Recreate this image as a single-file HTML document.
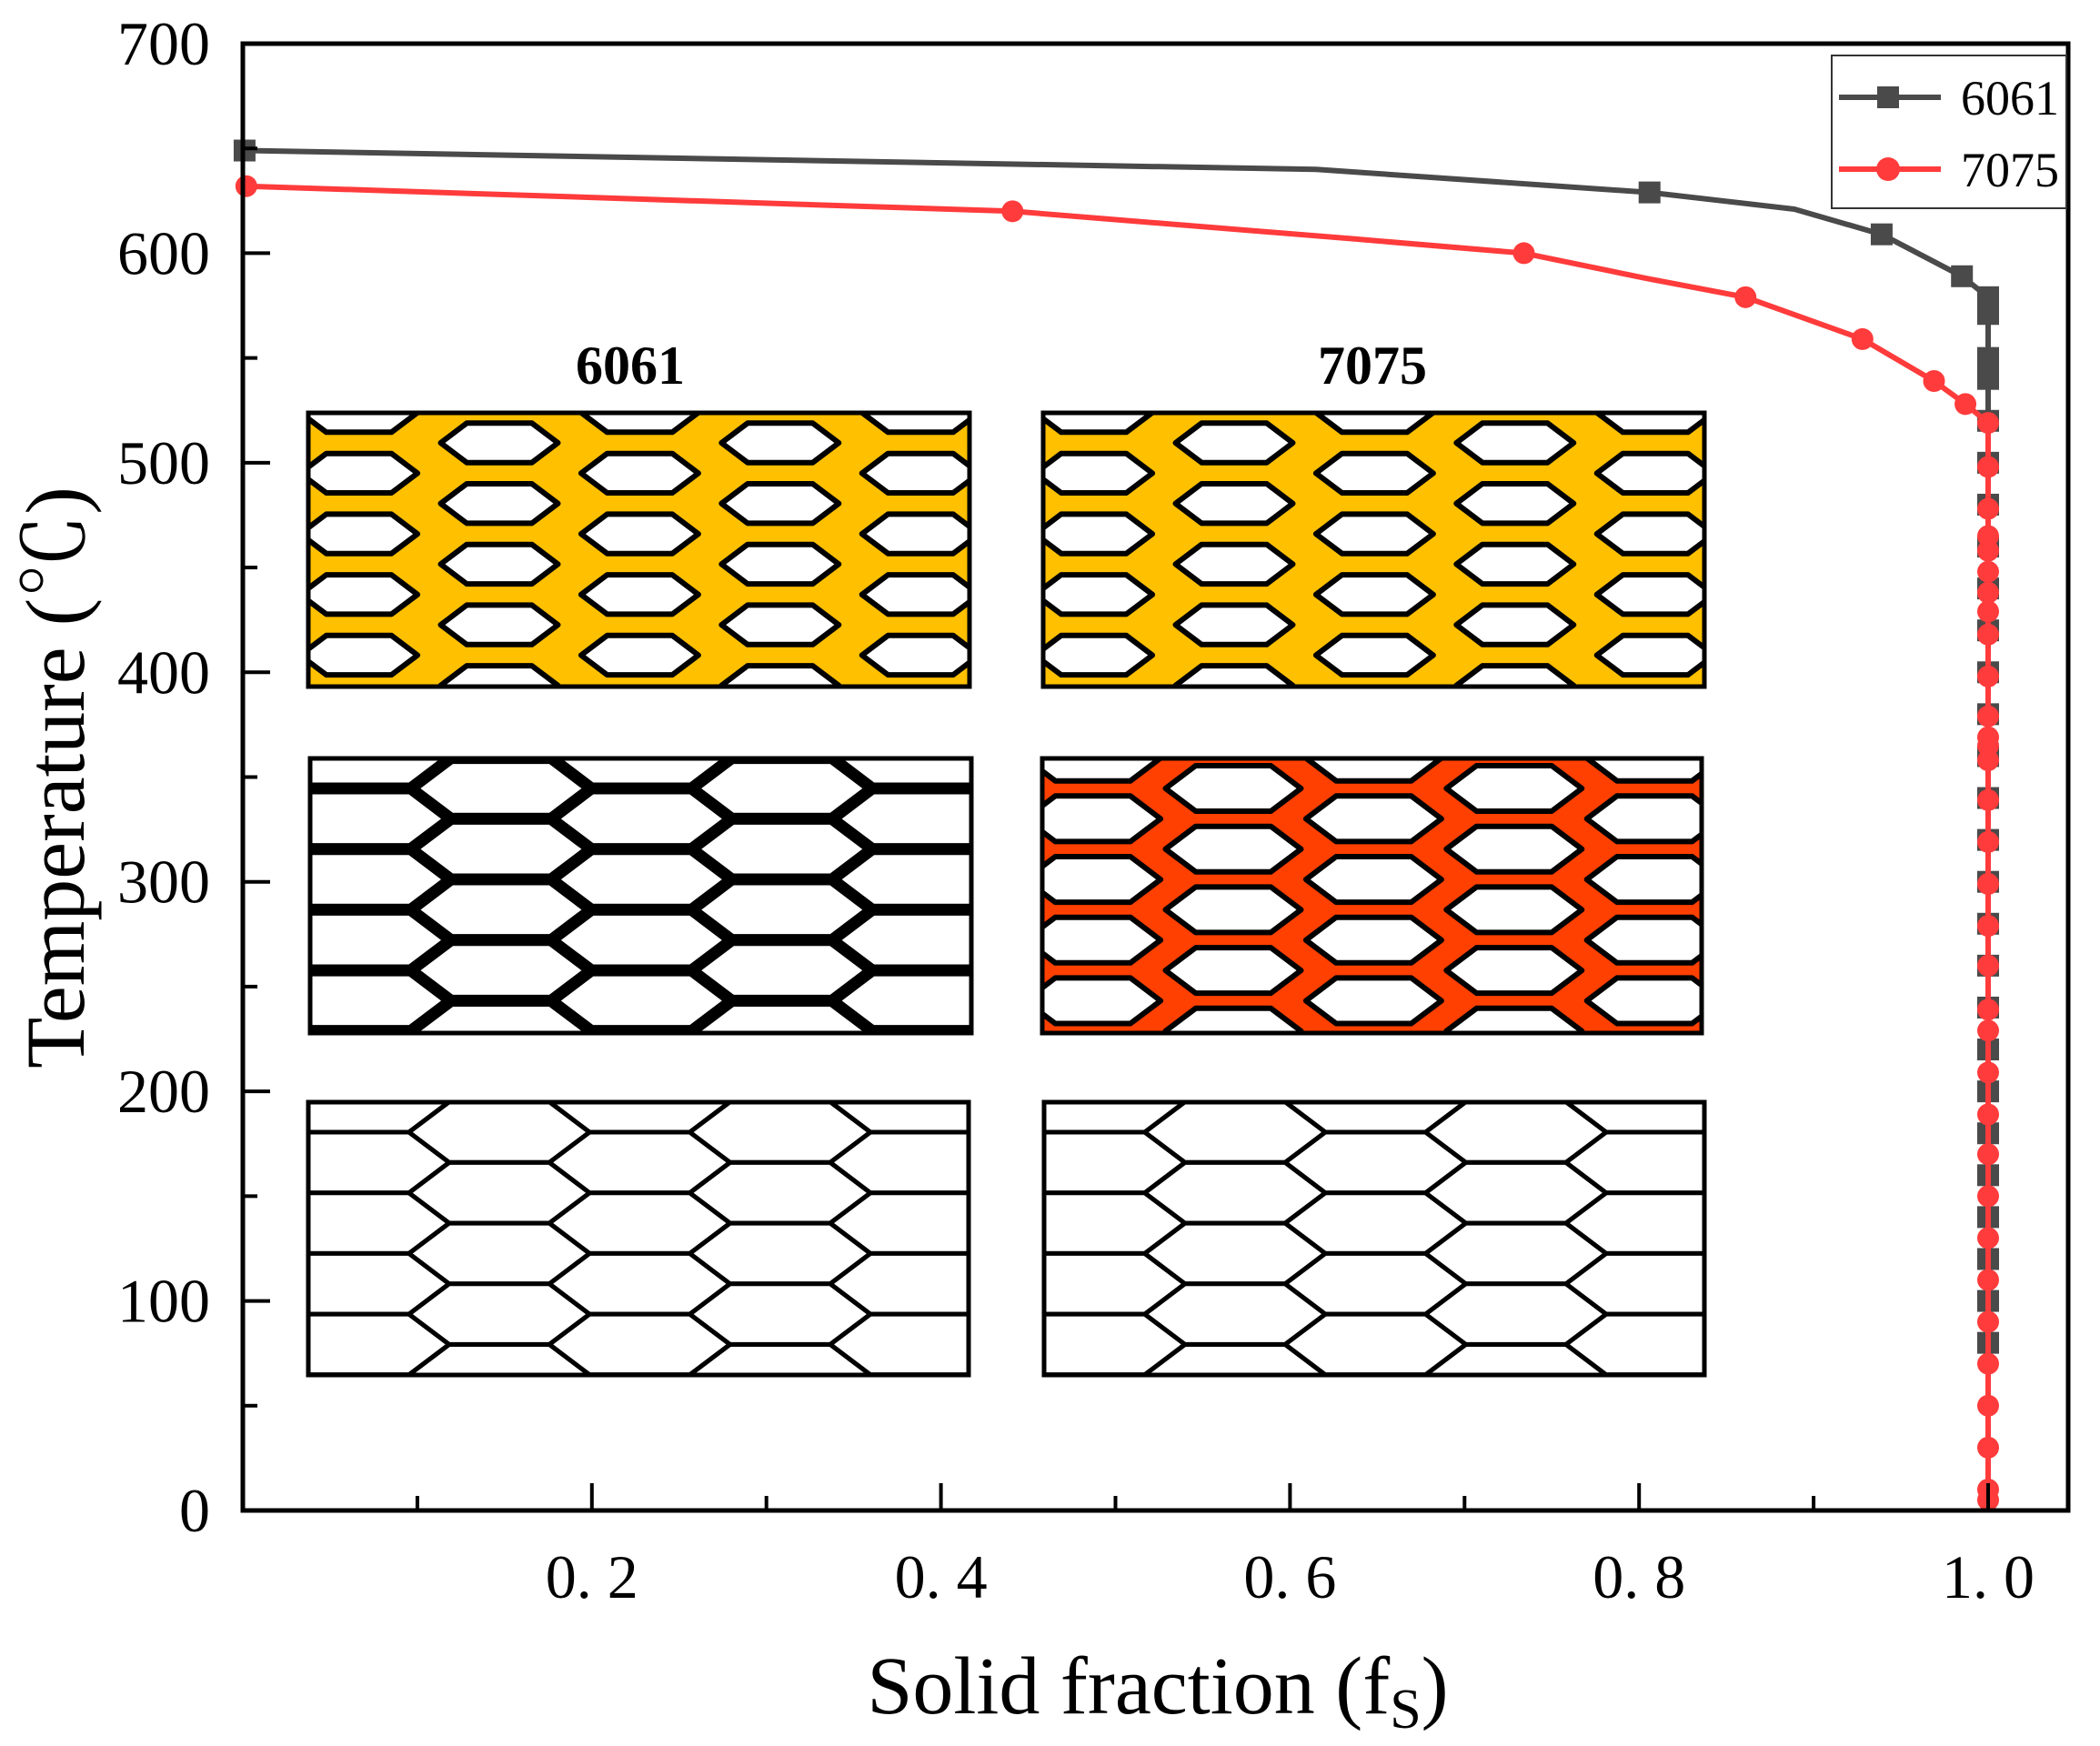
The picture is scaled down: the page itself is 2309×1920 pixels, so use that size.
<!DOCTYPE html>
<html><head><meta charset="utf-8">
<style>
html,body{margin:0;padding:0;background:#fff;}
svg{display:block;}
text{font-family:"Liberation Serif","Noto Serif CJK SC",serif;fill:#000;}
</style></head>
<body>
<svg id="chart" width="2309" height="1920" viewBox="0 0 2309 1920" xmlns="http://www.w3.org/2000/svg">
  <rect x="0" y="0" width="2309" height="1920" fill="#fff"/>
  <g id="insets"></g>
  <g id="series"></g>
  <g id="axes"></g>
  <text x="1273" y="1884" font-size="90" text-anchor="middle">Solid fraction (f<tspan font-size="62" dy="16">S</tspan><tspan dy="-16">)</tspan></text>
  <text transform="translate(92,855) rotate(-90)" font-size="92" text-anchor="middle">Temperature (℃)</text>
  <text x="693" y="422" font-size="60" font-weight="bold" text-anchor="middle">6061</text>
  <text x="1509" y="422" font-size="60" font-weight="bold" text-anchor="middle">7075</text>
  <g id="legend">
    <rect x="2014" y="61" width="258" height="168" fill="#fff" stroke="#333" stroke-width="2"/>
    <line x1="2022" y1="107" x2="2134" y2="107" stroke="#4a4a4a" stroke-width="6"/>
    <rect x="2064" y="95" width="24" height="24" fill="#4a4a4a"/>
    <text x="2156" y="126" font-size="54">6061</text>
    <line x1="2022" y1="186" x2="2134" y2="186" stroke="#ff3b3b" stroke-width="6"/>
    <circle cx="2076" cy="186" r="13" fill="#ff3b3b"/>
    <text x="2156" y="205" font-size="54">7075</text>
  </g>
</svg>
<script>
// ---- data ----
const xTicks = [0.2, 0.4, 0.6, 0.8, 1.0];
const xTickLabels = ["0. 2", "0. 4", "0. 6", "0. 8", "1. 0"];
const xMinorTicks = [0.1, 0.3, 0.5, 0.7, 0.9];
const yTicks = [0, 100, 200, 300, 400, 500, 600, 700];
const yMinorTicks = [50, 150, 250, 350, 450, 550, 650];
// 6061 curve (line path) and marker points
const fs6061 = [0.001, 0.615, 0.806, 0.889, 0.939, 0.985, 1.0, 1.0];
const T6061 = [649, 640, 629, 621, 609, 589, 579, 0];
const mfs6061 = [0.001, 0.806, 0.939, 0.985, 1.0, 1.0, 1.0, 1.0, 1.0, 1.0, 1.0, 1.0, 1.0, 1.0, 1.0, 1.0, 1.0, 1.0, 1.0, 1.0, 1.0, 1.0, 1.0, 1.0, 1.0, 1.0, 1.0, 1.0, 1.0, 1.0, 1.0, 1.0];
const mT6061 = [649, 629, 609, 589, 579, 571, 550, 545, 540, 520, 500, 480, 460, 440, 420, 400, 380, 360, 340, 320, 300, 280, 260, 240, 220, 200, 180, 160, 140, 120, 100, 80];
// 7075 curve and markers
const fs7075 = [0.002, 0.441, 0.634, 0.734, 0.804, 0.861, 0.928, 0.969, 0.987, 1.0, 1.0];
const T7075 = [632, 620, 607, 600, 588, 579, 559, 539, 528, 519, 3];
const mfs7075 = [0.002, 0.441, 0.734, 0.861, 0.928, 0.969, 0.987, 1.0, 1.0, 1.0, 1.0, 1.0, 1.0, 1.0, 1.0, 1.0, 1.0, 1.0, 1.0, 1.0, 1.0, 1.0, 1.0, 1.0, 1.0, 1.0, 1.0, 1.0, 1.0, 1.0, 1.0, 1.0, 1.0, 1.0, 1.0, 1.0, 1.0, 1.0, 1.0, 1.0];
const mT7075 = [632, 620, 600, 579, 559, 539, 528, 519, 498, 478, 465, 458, 448, 438, 429, 418, 398, 379, 369, 365, 358, 339, 319, 299, 279, 260, 239, 229, 209, 189, 170, 150, 130, 110, 90, 70, 50, 30, 10, 5];

// ---- scales ----
const PL = 267, PR = 2274, PT = 48, PB = 1661;
function xs(v){ return PL + v * 1919; }
function ys(t){ return PB - t * (PB - PT) / 700; }

const NS = "http://www.w3.org/2000/svg";
function mk(tag, attrs, parent){
  const e = document.createElementNS(NS, tag);
  for (const k in attrs) e.setAttribute(k, attrs[k]);
  parent.appendChild(e);
  return e;
}

// ---- insets ----
const insets = document.getElementById('insets');
const panels = [
  {x:339, y:454, w:727, h:301, bg:'#ffc000', s:0.65, sw:6, name:'inset-6061-top'},
  {x:1147, y:454, w:727, h:301, bg:'#ffc000', s:0.65, sw:6, name:'inset-7075-top'},
  {x:341, y:834, w:727, h:302, bg:'#fff', s:1, sw:13, name:'inset-6061-middle'},
  {x:1146, y:834, w:725, h:302, bg:'#ff4000', s:0.75, sw:6, name:'inset-7075-middle'},
  {x:339, y:1212, w:726, h:300, bg:'#fff', s:1, sw:5, name:'inset-6061-bottom'},
  {x:1148, y:1212, w:726, h:300, bg:'#fff', s:1, sw:5, name:'inset-7075-bottom'}
];
panels.forEach((p, idx) => {
  const g = mk('g', {}, insets);
  
  
  const cp = mk('clipPath', {id:'clip' + idx}, g);
  mk('rect', {x:p.x, y:p.y, width:p.w, height:p.h}, cp);
  const bg = mk('rect', {x:p.x, y:p.y, width:p.w, height:p.h, fill:p.bg}, g);
  
  
  const inner = mk('g', {'clip-path':'url(#clip' + idx + ')'}, g);
  const pitchX = 154.4, tip = 99.3, flat = 55.1, hh = 33.35;
  for (let k = -2; k <= 6; k++) {
    const cx = p.x + 210 + pitchX * k;
    for (let j = -2; j <= 6; j++) {
      const cy = p.y + 33 + (Math.abs(k) % 2) * hh + j * 2 * hh;
      const a = tip * p.s, b = flat * p.s, h = hh * p.s;
      const pts = [[cx - a, cy], [cx - b, cy - h], [cx + b, cy - h], [cx + a, cy], [cx + b, cy + h], [cx - b, cy + h]]
        .map(q => q[0].toFixed(1) + ',' + q[1].toFixed(1)).join(' ');
      const hex = mk('polygon', {points:pts, fill:'#fff', stroke:'#000', 'stroke-width':p.sw, 'stroke-linejoin':'round'}, inner);
      
      
    }
  }
  const border = mk('rect', {x:p.x, y:p.y, width:p.w, height:p.h, fill:'none', stroke:'#000', 'stroke-width':5}, g);
  
  
});

// ---- series ----
const series = document.getElementById('series');
function pathFrom(fx, ty){
  return fx.map((v, i) => (i ? 'L' : 'M') + xs(v).toFixed(1) + ',' + ys(ty[i]).toFixed(1)).join(' ');
}
const l6061 = mk('path', {d:pathFrom(fs6061, T6061), fill:'none', stroke:'#4a4a4a', 'stroke-width':6, 'stroke-linejoin':'round'}, series);


mfs6061.forEach((v, i) => {
  const r = mk('rect', {x:xs(v) - 12, y:ys(mT6061[i]) - 12, width:24, height:24, fill:'#4a4a4a'}, series);
  
  
});
const l7075 = mk('path', {d:pathFrom(fs7075, T7075), fill:'none', stroke:'#ff3b3b', 'stroke-width':6, 'stroke-linejoin':'round'}, series);


mfs7075.forEach((v, i) => {
  const c = mk('circle', {cx:xs(v), cy:ys(mT7075[i]), r:12, fill:'#ff3b3b'}, series);
  
  
});

// ---- axes ----
const axes = document.getElementById('axes');
const frame = mk('rect', {x:PL, y:PT, width:PR - PL, height:PB - PT, fill:'none', stroke:'#000', 'stroke-width':5}, axes);


xTicks.forEach((v, i) => {
  const t = mk('line', {x1:xs(v), x2:xs(v), y1:PB, y2:PB - 30, stroke:'#000', 'stroke-width':4}, axes);
  
  
  const lb = mk('text', {x:xs(v), y:1757, 'font-size':68, 'text-anchor':'middle'}, axes);
  lb.textContent = xTickLabels[i];
  
  
});
xMinorTicks.forEach(v => {
  const t = mk('line', {x1:xs(v), x2:xs(v), y1:PB, y2:PB - 16, stroke:'#000', 'stroke-width':4}, axes);
  
  
});
yTicks.forEach(v => {
  const t = mk('line', {x1:PL, x2:PL + 30, y1:ys(v), y2:ys(v), stroke:'#000', 'stroke-width':4}, axes);
  
  
  const lb = mk('text', {x:231, y:ys(v) + 23, 'font-size':68, 'text-anchor':'end'}, axes);
  lb.textContent = String(v);
  
  
});
yMinorTicks.forEach(v => {
  const t = mk('line', {x1:PL, x2:PL + 16, y1:ys(v), y2:ys(v), stroke:'#000', 'stroke-width':4}, axes);
  
  
});
</script>
</body></html>
